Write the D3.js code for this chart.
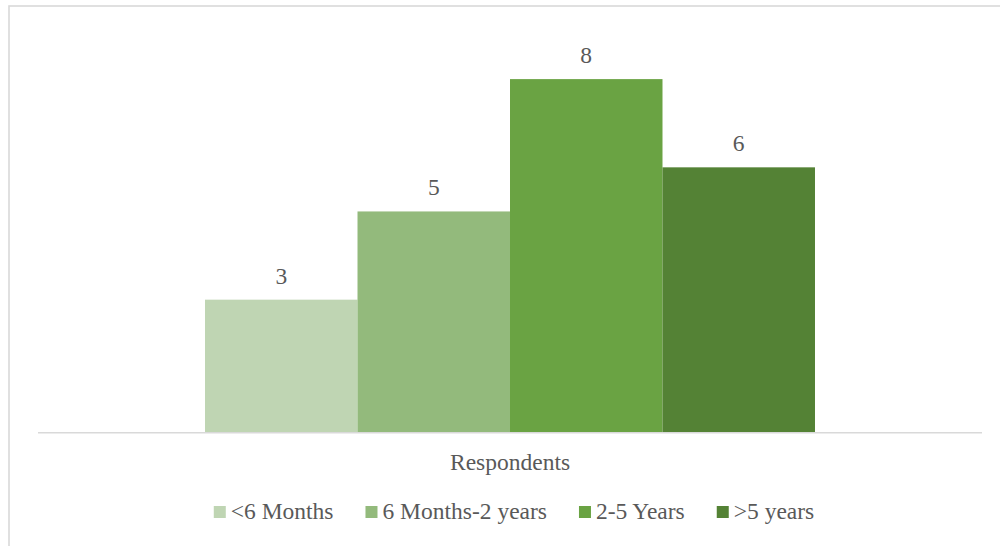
<!DOCTYPE html>
<html>
<head>
<meta charset="utf-8">
<script src="https://cdn.jsdelivr.net/npm/d3@7"></script>
<style>
  html, body { margin: 0; padding: 0; background: #fff; }
  svg { display: block; }
  text { font-family: "Liberation Serif", "Times New Roman", serif; fill: #595959; }
</style>
</head>
<body>
<svg id="chart" width="1000" height="546"></svg>
<script>
// Tenure of respondents
const categories = ["Respondents"];
const seriesNames = ["<6 Months", "6 Months-2 years", "2-5 Years", ">5 years"];
const seriesValues = [3, 5, 8, 6];
const seriesColors = ["#bfd5b3", "#93ba7c", "#6aa343", "#548235"];

const W = 1000, H = 546;
const plot = { left: 38, right: 982, top: 35, bottom: 432 };
const fontSize = "23.5px";

const svg = d3.select("#chart");

// outer frame
svg.append("rect")
  .attr("x", 9).attr("y", 6)
  .attr("width", W + 20).attr("height", H + 20)
  .attr("fill", "none")
  .attr("stroke", "#d9d9d9")
  .attr("stroke-width", 1.6);

const x0 = d3.scaleBand()
  .domain(categories)
  .range([plot.left, plot.right])
  .paddingInner(0)
  .paddingOuter(0.2738);

const x1 = d3.scaleBand()
  .domain(seriesNames)
  .range([0, x0.bandwidth()])
  .padding(0);

const y = d3.scaleLinear()
  .domain([0, 9])
  .range([plot.bottom, plot.top]);

const color = d3.scaleOrdinal().domain(seriesNames).range(seriesColors);

const data = seriesNames.map((name, i) => ({ category: categories[0], name, value: seriesValues[i] }));

const g = svg.append("g");

g.selectAll("rect.bar")
  .data(data)
  .join("rect")
  .attr("class", "bar")
  .attr("x", d => x0(d.category) + x1(d.name))
  .attr("y", d => y(d.value))
  .attr("width", x1.bandwidth())
  .attr("height", d => y(0) - y(d.value))
  .attr("fill", d => color(d.name));

// value labels
g.selectAll("text.value")
  .data(data)
  .join("text")
  .attr("class", "value")
  .attr("x", d => x0(d.category) + x1(d.name) + x1.bandwidth() / 2)
  .attr("y", d => y(d.value) - 16)
  .attr("text-anchor", "middle")
  .style("font-size", fontSize)
  .text(d => d.value);

// category axis
const xAxis = svg.append("g")
  .attr("transform", `translate(0,${plot.bottom + 0.8})`)
  .call(d3.axisBottom(x0).tickSize(0).tickPadding(21));
xAxis.select(".domain")
  .attr("d", `M${plot.left},0H${plot.right}`)
  .attr("stroke", "#d9d9d9")
  .attr("stroke-width", 1.6);
xAxis.selectAll(".tick text")
  .style("font-size", fontSize)
  .style("font-family", "\"Liberation Serif\", \"Times New Roman\", serif")
  .attr("fill", "#595959");

// legend
const legend = svg.append("g");
const items = legend.selectAll("g.item")
  .data(seriesNames)
  .join("g")
  .attr("class", "item");
items.append("rect")
  .attr("width", 12).attr("height", 12)
  .attr("y", 506)
  .attr("fill", d => color(d));
items.append("text")
  .attr("y", 518.5)
  .style("font-size", fontSize)
  .text(d => d);

let cursor = 0;
const positions = [];
items.each(function () {
  const t = d3.select(this).select("text").node().getComputedTextLength();
  positions.push(cursor);
  cursor += 12 + 5 + t + 32;
});
const total = cursor - 32;
const start = 514 - total / 2;
items.each(function (d, i) {
  const gx = start + positions[i];
  d3.select(this).select("rect").attr("x", gx);
  d3.select(this).select("text").attr("x", gx + 17);
});
</script>
</body>
</html>
